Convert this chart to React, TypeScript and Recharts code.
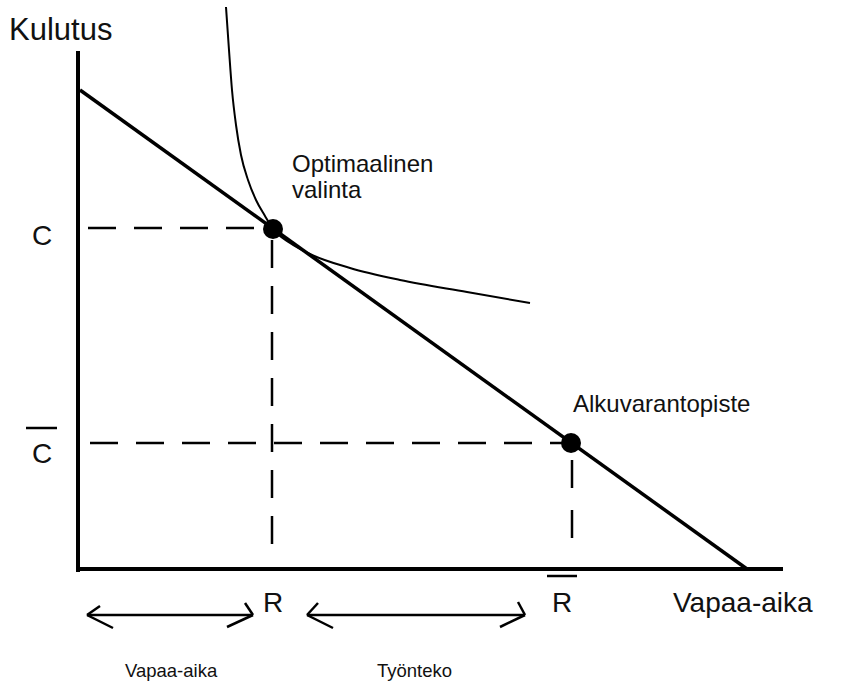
import { ComposedChart, Line, ReferenceDot, ReferenceLine, Scatter, XAxis, YAxis } from 'recharts';

// Hand-drawn labour/leisure diagram. Units: free time (x) and consumption (y), origin at the axes corner.
const budgetLine = [
  { x: 2, y: 479 },
  { x: 669, y: 0 },
];

const indifferenceCurve = [
  { x: 148, y: 562 },
  { x: 151, y: 519 },
  { x: 154, y: 479 },
  { x: 158, y: 444 },
  { x: 163, y: 414 },
  { x: 170, y: 389 },
  { x: 178, y: 369 },
  { x: 187, y: 353 },
  { x: 195, y: 340 },
  { x: 212, y: 326 },
  { x: 232, y: 315 },
  { x: 272, y: 301 },
  { x: 322, y: 289 },
  { x: 389, y: 277 },
  { x: 452, y: 266 },
];

const optimum = { x: 195, y: 340 };
const endowment = { x: 493, y: 126 };

const labels = [
  { x: -69, y: 529, text: 'Kulutus', size: 31 },
  { x: -46, y: 324, text: 'C', size: 28 },
  { x: -46, y: 106, text: 'C', size: 28 },
  { x: 185, y: -43, text: 'R', size: 28 },
  { x: 474, y: -43, text: 'R', size: 28 },
  { x: 595, y: -43, text: 'Vapaa-aika', size: 28 },
  { x: 214, y: 397, text: 'Optimaalinen', size: 24 },
  { x: 214, y: 371, text: 'valinta', size: 24 },
  { x: 495, y: 157, text: 'Alkuvarantopiste', size: 24 },
  { x: 47, y: -108, text: 'Vapaa-aika', size: 18.5 },
  { x: 299, y: -108, text: 'Työnteko', size: 18.5 },
];

// overbars above C and R
const overbars = [
  [{ x: -52, y: 141 }, { x: -21, y: 141 }],
  [{ x: 469, y: -7 }, { x: 499, y: -7 }],
];

// double arrows under the x axis: shaft + two strokes per head
const arrows = [
  [{ x: 9, y: -46 }, { x: 175, y: -46 }],
  [{ x: 9, y: -46 }, { x: 22, y: -37 }],
  [{ x: 9, y: -46 }, { x: 35, y: -59 }],
  [{ x: 175, y: -46 }, { x: 167, y: -34 }],
  [{ x: 175, y: -46 }, { x: 149, y: -58 }],
  [{ x: 229, y: -46 }, { x: 447, y: -46 }],
  [{ x: 229, y: -46 }, { x: 240, y: -34 }],
  [{ x: 229, y: -46 }, { x: 255, y: -59 }],
  [{ x: 447, y: -46 }, { x: 440, y: -33 }],
  [{ x: 447, y: -46 }, { x: 422, y: -58 }],
];

const FONT = '"Liberation Sans", Arial, Helvetica, sans-serif';

function LabelText(props: any) {
  const { cx, cy, payload } = props;
  return (
    <text x={cx} y={cy} fontSize={payload.size} fontFamily={FONT} fill="#111">
      {payload.text}
    </text>
  );
}

export default function App() {
  const dash = '28 18';
  return (
    <div style={{ width: 862, height: 681, background: '#fff' }}>
      <style>{'body{margin:0}'}</style>
      <ComposedChart width={862} height={681} margin={{ top: 0, right: 0, bottom: 0, left: 0 }}>
        <XAxis type="number" dataKey="x" domain={[-78, 784]} hide allowDataOverflow />
        <YAxis type="number" dataKey="y" domain={[-112, 569]} hide allowDataOverflow />

        {/* axes */}
        <ReferenceLine segment={[{ x: 0, y: -3 }, { x: 0, y: 518 }]} stroke="#000" strokeWidth={4} />
        <ReferenceLine segment={[{ x: -2, y: 0 }, { x: 705, y: 0 }]} stroke="#000" strokeWidth={4} />

        {/* dashed guides */}
        <ReferenceLine segment={[{ x: 10, y: optimum.y + 1 }, { x: optimum.x - 8, y: optimum.y + 1 }]} stroke="#000" strokeWidth={2.5} strokeDasharray={dash} />
        <ReferenceLine segment={[{ x: optimum.x - 1, y: optimum.y - 11 }, { x: optimum.x - 1, y: 17 }]} stroke="#000" strokeWidth={2.5} strokeDasharray={dash} />
        <ReferenceLine segment={[{ x: 12, y: endowment.y }, { x: endowment.x - 9, y: endowment.y }]} stroke="#000" strokeWidth={2.5} strokeDasharray={dash} />
        <ReferenceLine segment={[{ x: endowment.x + 1, y: endowment.y - 17 }, { x: endowment.x + 1, y: 24 }]} stroke="#000" strokeWidth={2.5} strokeDasharray="28 22" />

        {overbars.map((s, i) => (
          <ReferenceLine key={'o' + i} segment={s} stroke="#000" strokeWidth={2.5} />
        ))}
        {arrows.map((s, i) => (
          <ReferenceLine key={'a' + i} segment={s} stroke="#000" strokeWidth={2.5} />
        ))}

        <Line data={budgetLine} dataKey="y" type="linear" stroke="#000" strokeWidth={3.5} dot={false} isAnimationActive={false} />
        <Line data={indifferenceCurve} dataKey="y" type="monotone" stroke="#000" strokeWidth={2} dot={false} isAnimationActive={false} />

        <ReferenceDot x={optimum.x} y={optimum.y} r={10} fill="#000" stroke="none" />
        <ReferenceDot x={endowment.x} y={endowment.y} r={10} fill="#000" stroke="none" />

        <Scatter data={labels} dataKey="y" shape={LabelText} isAnimationActive={false} />
      </ComposedChart>
    </div>
  );
}
